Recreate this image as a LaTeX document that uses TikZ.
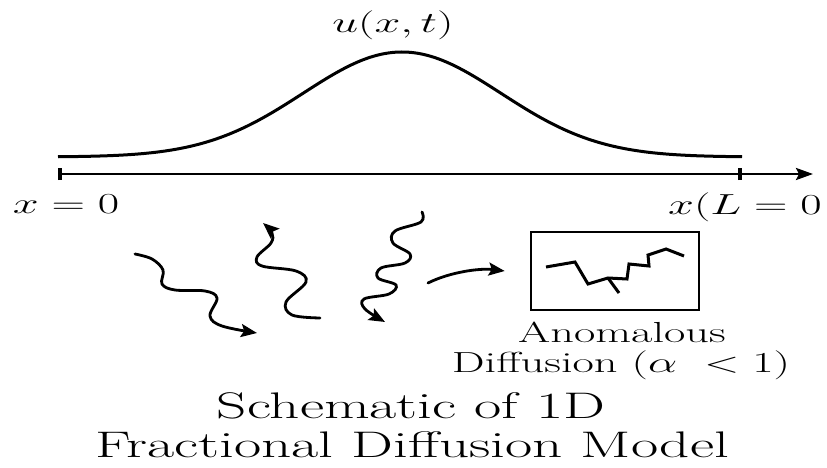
\RequirePackage{fix-cm}
\documentclass[tikz,border=0pt]{standalone}
\usepackage{graphicx}
\usetikzlibrary{arrows.meta}
\newcommand{\lbltext}[1]{\scalebox{1.865}[1.166]{#1}}
\newcommand{\ttltext}[1]{\scalebox{2.38}[1.487]{#1}}
\begin{document}
\begin{tikzpicture}[x=1pt,y=-1pt,
  txt/.style={inner sep=0pt, anchor=base, font=\fontsize{24.88}{30}\selectfont},
  bell/.style={line width=3pt},
  axisline/.style={line width=2.6pt, -{Stealth[length=17pt,width=12pt,inset=3pt]}},
  tickmark/.style={line width=3.5pt},
  wav/.style={line width=2.8pt, line cap=round, -{Stealth[length=16pt,width=13pt,inset=3pt]}},
  boxframe/.style={draw, line width=2.6pt, minimum width=168pt, minimum height=78pt, inner sep=0pt},
  zig/.style={line width=3pt, line join=miter}
]
\useasboundingbox (0,0) rectangle (827,468);
% bell curve
\draw[bell] plot[domain=58:742,samples=200] (\x,{157-105*exp(-0.5*((\x-402)/99)^2)});
% axis
\coordinate (a0) at (60,174);
\coordinate (aL) at (740,174);
\coordinate (aE) at (813,174);
\draw[axisline] (a0) -- (aE);
\draw[tickmark] ([yshift=-6pt]a0) -- ([yshift=6pt]a0);
\draw[tickmark] ([yshift=-6pt]aL) -- ([yshift=6pt]aL);
% labels
\node[txt] (u) at (393,33) {\lbltext{$u(x,t)$}};
\node[txt] (x0) at (66,213) {\lbltext{$x = 0$}};
\node[txt] (xL) at (745,214) {\lbltext{$x(L = 0$}};
% wavy arrows
\draw[wav] plot[smooth, tension=0.6] coordinates {(135,254) (152,259) (163,270) (162,284) (175,290) (205,291) (217,298) (210,316) (222,326) (257,333)};
\draw[wav] plot[smooth, tension=0.6] coordinates {(320,318) (292,315) (286,302) (306,282) (296,271) (262,266) (257,257) (271,243) (272,233) (263,223)};
\draw[wav] plot[smooth, tension=0.6] coordinates {(422,212) (421,222) (395,231) (393,243) (410,254) (405,263) (381,268) (378,278) (396,285) (389,294) (364,299) (365,309) (385,322)};
% box
\node[boxframe] (box) at (615,271) {};
\coordinate (c0) at (428,283);
\draw[wav] (c0) .. controls (450,272) and (480,268) .. ([xshift=-25pt,yshift=0pt]box.west);
\draw[zig] (546,267) -- (575,262) -- (588,284) -- (608,278) -- (627,279) -- (629,264) -- (649,266) -- (648,255) -- (666,249) -- (684,256);
\draw[zig] (608,278) -- (619,293);
% captions
\node[txt] (an) at (622,342) {\lbltext{Anomalous}};
\node[txt] (df) at (621,372) {\lbltext{Diffusion $(\alpha\ < 1)$}};
\node[txt] (t1) at (411,418) {\ttltext{Schematic of 1D}};
\node[txt] (t2) at (412,457) {\ttltext{Fractional Diffusion Model}};
\end{tikzpicture}
\end{document}
